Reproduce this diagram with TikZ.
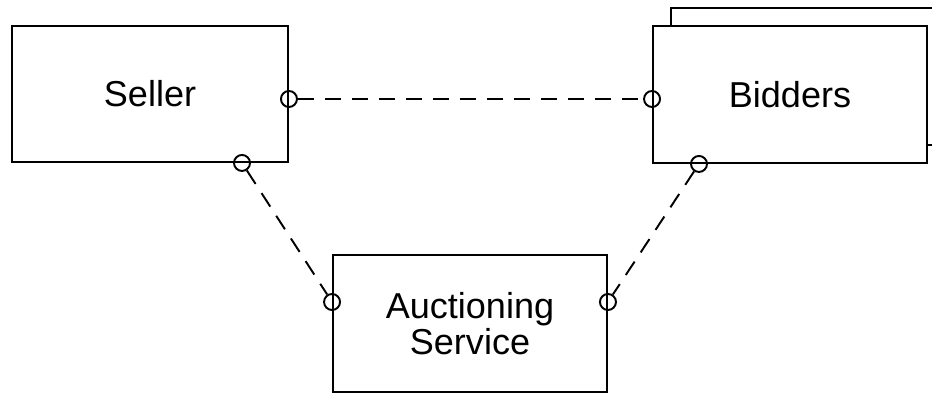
\documentclass[tikz,border=0pt]{standalone}
\usepackage{fontspec}
\setmainfont{Liberation Sans}
\usepackage{tikz}
\usetikzlibrary{calc}
\usetikzlibrary{shadows}
\tikzset{
  party/.style={draw, line width=1.1pt, fill=white, minimum width=5.48cm, minimum height=2.74cm,
    align=center, font=\fontsize{20.5}{20.5}\selectfont},
  port/.style={shape=circle, draw, line width=1.1pt, inner sep=0pt, minimum size=0.32cm},
  link/.style={line width=1.1pt, dash pattern=on 0.32cm off 0.22cm}
}

\begin{document}
\begin{tikzpicture}
        \useasboundingbox (0,0) rectangle (18.64,7.86);
        \clip (0,0) rectangle (18.64,7.86);
        % parties
        \node[party, minimum width=5.52cm, minimum height=2.72cm] (seller) at (3.0,5.98) {Seller};
        \node[party, copy shadow={shadow xshift=0.36cm, shadow yshift=0.36cm}] (bidders) at (15.8,5.97) {Bidders};
        \node[party] (auction) at (9.4,1.39) {Auctioning\\Service};
        % ports
        \node[port] (sellerR) at ([yshift=-0.1cm]seller.east) {};
        \node[port] (sellerB) at ([xshift=1.84cm]seller.south) {};
        \node[port] (biddersL) at (bidders.west |- sellerR) {};
        \node[port] (biddersB) at ([xshift=-1.82cm]bidders.south) {};
        \node[port] (auctionL) at ([yshift=0.43cm]auction.west) {};
        \node[port] (auctionR) at ([yshift=0.43cm]auction.east) {};
        % links
        \draw[link] (sellerR) -- (biddersL);
        \draw[link] (sellerB) -- (auctionL);
        \draw[link] (biddersB) -- (auctionR);
    \end{tikzpicture}
\end{document}
